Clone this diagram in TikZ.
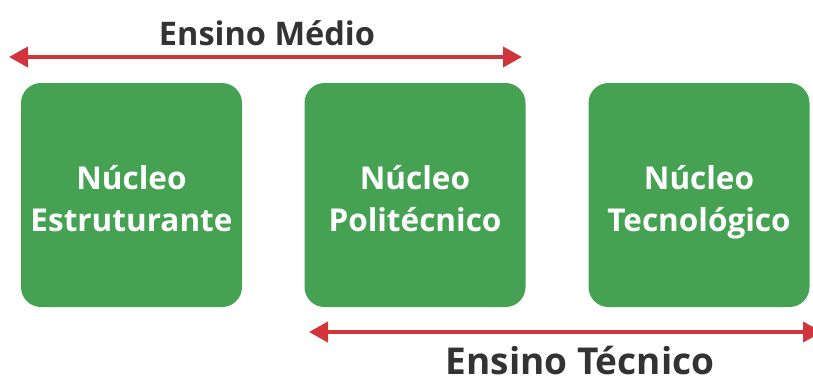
\documentclass[tikz,border=0pt]{standalone}
\usepackage{fontspec}
\setmainfont{Open Sans}
\usetikzlibrary{arrows.meta}
\definecolor{boxgreen}{HTML}{45A252}
\definecolor{arrred}{HTML}{D2343B}
\definecolor{txtdark}{HTML}{333333}
\begin{document}
\begin{tikzpicture}[x=1pt,y=-1pt,
  nucleo/.style={fill=boxgreen, rounded corners=20pt, minimum width=221pt, minimum height=224pt, inner sep=0pt},
  ntext/.style={text=white, font=\fontsize{31.5}{42}\selectfont\bfseries, align=center, inner sep=0pt},
  span/.style={draw=arrred, line width=4pt, {Triangle[length=19pt,width=20pt]}-{Triangle[length=19pt,width=20pt]}},
  lbl/.style={text=txtdark, font=\bfseries, inner sep=0pt}]
\useasboundingbox (0,0) rectangle (813,378);
\node[nucleo] (n1) at (131.5,195) {};
\node[nucleo] (n2) at (415,195) {};
\node[nucleo] (n3) at (699,195) {};
\node[ntext] (t1) at (131.5,202) {Núcleo\\Estruturante\vphantom{g}};
\node[ntext] (t2) at (415,202) {Núcleo\\Politécnico\vphantom{g}};
\node[ntext] (t3) at (699,202) {Núcleo\\Tecnológico\vphantom{g}};
\coordinate (a1) at (9,57);
\coordinate (a2) at (522,57);
\coordinate (b1) at (309,332);
\coordinate (b2) at (822,332);
\draw[span] (a1) -- (a2);
\draw[span] (b1) -- (b2);
\node[lbl, font=\fontsize{32.5}{38}\selectfont\bfseries, anchor=base] (tm) at (267,45) {Ensino Médio};
\node[lbl, font=\fontsize{37}{44}\selectfont\bfseries, anchor=base, text depth=0pt] (tt) at (580,374) {Ensino Técnico};
\end{tikzpicture}
\end{document}
